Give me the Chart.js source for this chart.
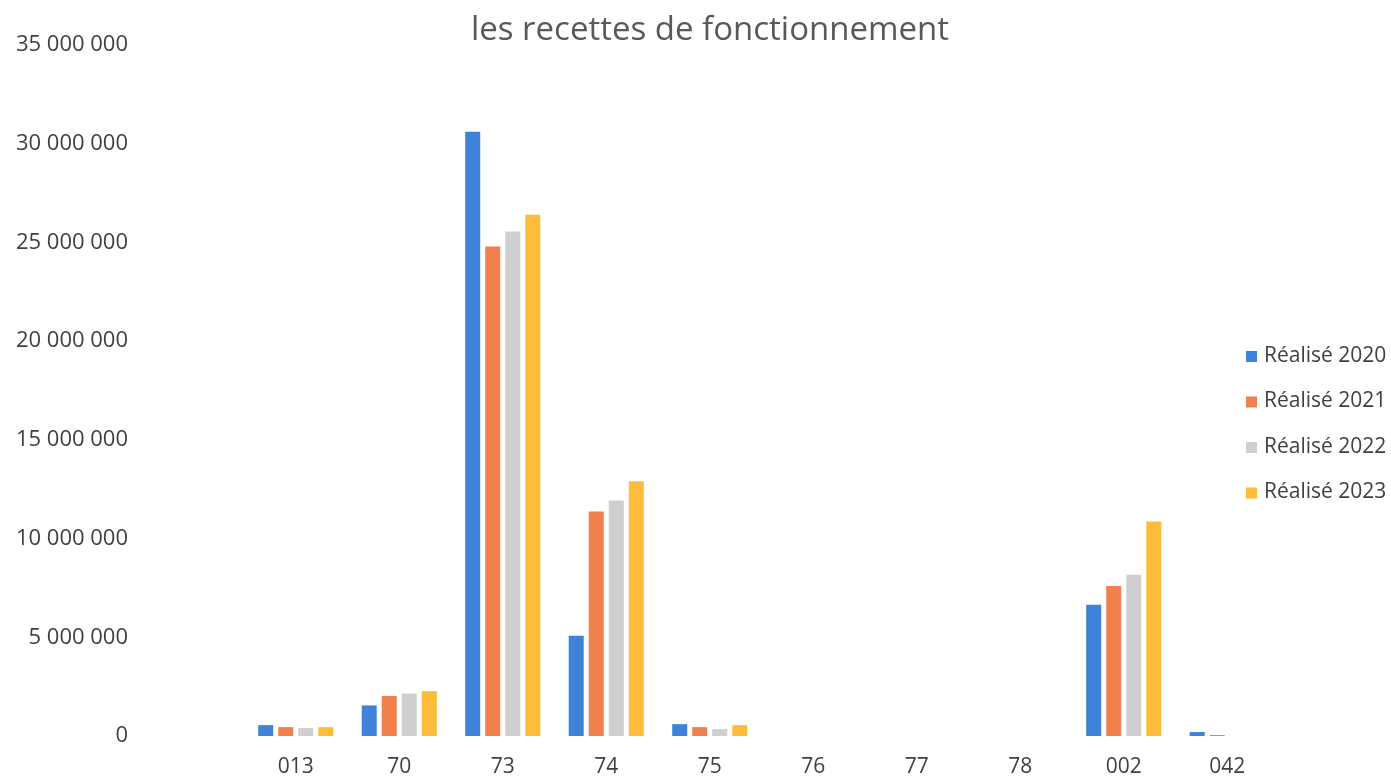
<!DOCTYPE html>
<html>
<head>
<meta charset="utf-8">
<script src="https://cdn.jsdelivr.net/npm/chart.js@4.4.1/dist/chart.umd.min.js"></script>
<style>
  html, body { margin: 0; padding: 0; background: #ffffff; }
  #wrap { width: 1391px; height: 778px; position: relative; }
</style>
</head>
<body>
<div id="wrap"><canvas id="c" width="1391" height="778"></canvas></div>
<script>
const titleText = 'les recettes de fonctionnement';
const categories = ['013', '70', '73', '74', '75', '76', '77', '78', '002', '042'];
const seriesNames = ['Réalisé 2020', 'Réalisé 2021', 'Réalisé 2022', 'Réalisé 2023'];
const realise2020 = [550000, 1550000, 30600000, 5080000, 600000, 0, 0, 0, 6650000, 200000];
const realise2021 = [450000, 2030000, 24800000, 11370000, 450000, 0, 0, 0, 7600000, 50000];
const realise2022 = [400000, 2150000, 25550000, 11930000, 350000, 0, 0, 0, 8170000, 0];
const realise2023 = [450000, 2270000, 26400000, 12900000, 550000, 0, 0, 0, 10860000, 0];
const yTicks = [0, 5000000, 10000000, 15000000, 20000000, 25000000, 30000000, 35000000];

const colors = ['#3f82d9', '#f2804f', '#cfcfcf', '#fdbd3a'];
const FONT = "'Open Sans', 'DejaVu Sans', sans-serif";

function fmt(v) {
  return String(v).replace(/\B(?=(\d{3})+(?!\d))/g, ' ');
}

const titlePlugin = {
  id: 'customTitle',
  afterDraw(chart) {
    const ctx = chart.ctx;
    ctx.save();
    ctx.fillStyle = '#595959';
    ctx.font = '33px ' + FONT;
    ctx.textAlign = 'center';
    ctx.textBaseline = 'middle';
    ctx.fillText(titleText, 710, 31);
    ctx.restore();
  }
};

const legendPlugin = {
  id: 'customLegend',
  afterDraw(chart) {
    const ctx = chart.ctx;
    ctx.save();
    ctx.font = '21px ' + FONT;
    ctx.textBaseline = 'middle';
    ctx.textAlign = 'left';
    chart.data.datasets.forEach((ds, i) => {
      const y = 356 + i * 45.5;
      ctx.fillStyle = ds.backgroundColor;
      ctx.fillRect(1246, y - 5, 11, 11);
      ctx.fillStyle = '#404040';
      ctx.fillText(ds.label, 1264, y);
    });
    ctx.restore();
  }
};

const seriesData = [realise2020, realise2021, realise2022, realise2023];

new Chart(document.getElementById('c'), {
  type: 'bar',
  data: {
    labels: categories,
    datasets: seriesNames.map((name, i) => ({
      label: name,
      data: seriesData[i],
      backgroundColor: colors[i],
      borderWidth: 0,
      categoryPercentage: 0.774,
      barPercentage: 0.75
    }))
  },
  options: {
    responsive: false,
    animation: false,
    layout: { padding: { top: 45, right: 112, bottom: 0, left: 0 } },
    plugins: {
      legend: { display: false },
      title: { display: false },
      tooltip: { enabled: false }
    },
    scales: {
      x: {
        grid: { display: false, drawTicks: false },
        border: { display: false },
        ticks: {
          color: '#404040',
          font: { family: FONT, size: 21 },
          padding: 18,
          maxRotation: 0
        },
        afterFit(scale) {
          scale.height = 42;
          scale.paddingLeft = 0;
          scale.paddingRight = 0;
        }
      },
      y: {
        min: 0,
        max: 35000000,
        grid: { display: false, drawTicks: false },
        border: { display: false },
        afterBuildTicks(scale) { scale.ticks = yTicks.map(v => ({ value: v })); },
        ticks: {
          color: '#404040',
          font: { family: FONT, size: 22 },
          padding: 116,
          callback: (v) => fmt(v)
        },
        afterFit(scale) {
          scale.width = 244;
          scale.paddingTop = 0;
          scale.paddingBottom = 0;
        }
      }
    }
  },
  plugins: [titlePlugin, legendPlugin]
});
</script>
</body>
</html>
